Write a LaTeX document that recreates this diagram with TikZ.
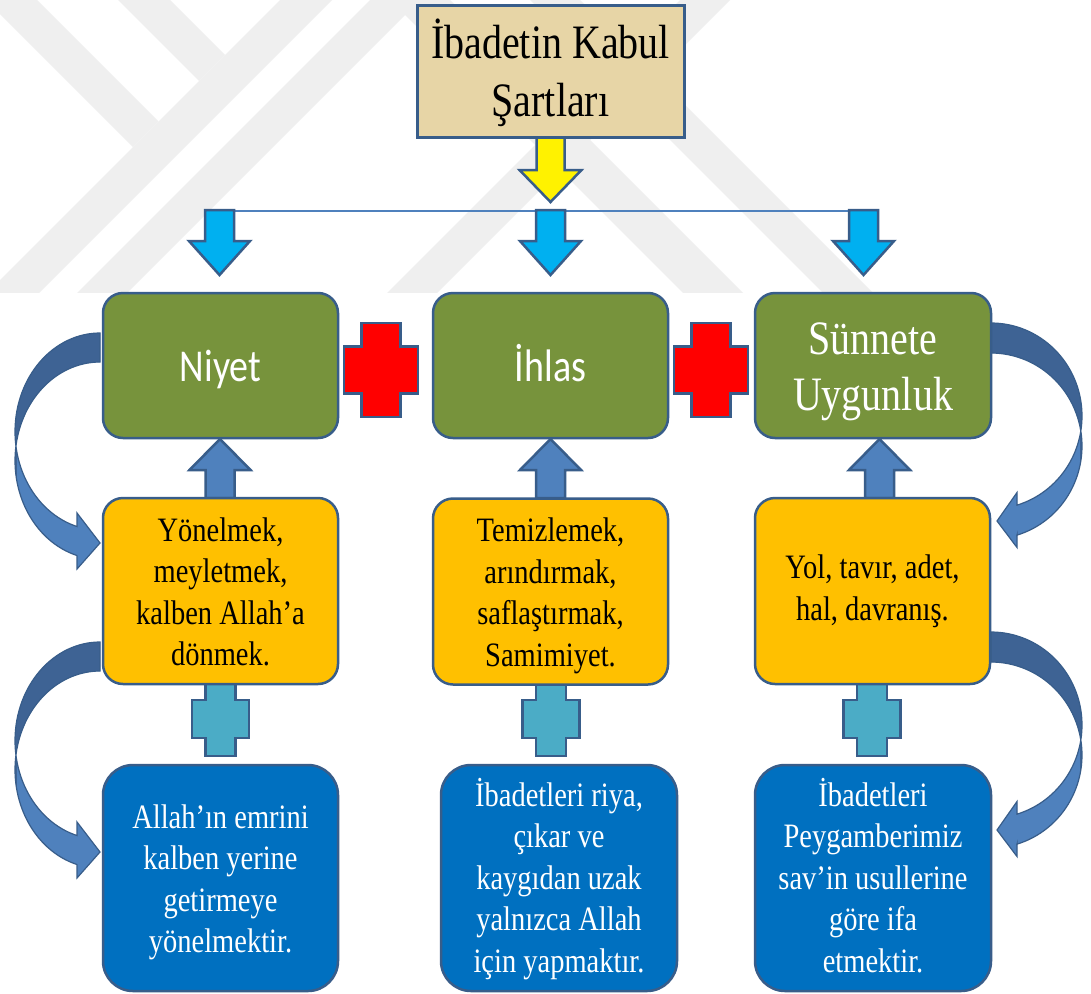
\documentclass[tikz,border=0pt]{standalone}
\usepackage{fontspec}
\setmainfont{Liberation Serif}
\newfontfamily\calfont{Carlito}
\usepackage{graphicx}
\usetikzlibrary{calc}
\definecolor{bord}{RGB}{56,93,138}
\definecolor{grn}{RGB}{119,147,60}
\definecolor{yel}{RGB}{255,192,0}
\definecolor{dblue}{RGB}{0,112,192}
\definecolor{ablue}{RGB}{79,129,189}
\definecolor{adark}{RGB}{62,99,148}
\definecolor{cyanx}{RGB}{75,172,198}
\definecolor{skyb}{RGB}{0,176,240}
\definecolor{papy}{RGB}{231,213,166}
\definecolor{wm}{RGB}{239,239,239}
\newcommand\tx[2][0pt]{\raisebox{#1}[\height][\depth]{\scalebox{1}[1.2]{\begin{tabular}{@{}c@{}}#2\end{tabular}}}}
\tikzset{
  bxbase/.style={draw=bord, line width=2.5pt, inner sep=0pt, outer sep=0pt, minimum width=235pt},
  gbox/.style={bxbase, rounded corners=20pt, fill=grn, text=white, minimum height=145pt},
  ybox/.style={bxbase, rounded corners=20pt, fill=yel, text=black, minimum height=186pt, font=\fontsize{28.5}{34.6}\selectfont},
  bbox/.style={bxbase, rounded corners=30pt, fill=dblue, text=white, minimum height=226pt, font=\fontsize{28.5}{34.6}\selectfont},
  blk/.style={draw=bord, line width=2.5pt, line join=miter},
  pics/downarr/.style n args={4}{code={\path[pic actions] (-#1,0) -- (-#1,#3) -- (-#2,#3) -- (0,#4) -- (#2,#3) -- (#1,#3) -- (#1,0) -- cycle;}},
  pics/plus/.style n args={4}{code={\path[pic actions] (-#3,-#2) -- (#3,-#2) -- (#3,-#4) -- (#1,-#4) -- (#1,#4) -- (#3,#4) -- (#3,#2) -- (-#3,#2) -- (-#3,#4) -- (-#1,#4) -- (-#1,-#4) -- (-#3,-#4) -- cycle;}},
}
\newcommand\LUpath{plot[domain=90:254.3,samples=60] ({100+85*cos(\x)},{431.6-98.6*sin(\x)}) -- (77,513) -- (100,543) -- (77,569) -- (77,555.5) -- plot[domain=254.3:90,samples=60] ({100+85*cos(\x)},{460.6-98.6*sin(\x)}) -- cycle}
\newcommand\LUdark{plot[domain=90:192,samples=40] ({100+85*cos(\x)},{431.6-98.6*sin(\x)}) -- plot[domain=192:90,samples=40] ({100+85*cos(\x)},{460.6-98.6*sin(\x)}) -- cycle}
\newcommand\RUpath{plot[domain=90:-73.4,samples=60] ({991+91*cos(\x)},{416-93*sin(\x)}) -- (1017,492.5) -- (997,521) -- (1017,547.5) -- (1017,535.1) -- plot[domain=-73.4:90,samples=60] ({991+91*cos(\x)},{446-93*sin(\x)}) -- cycle}
\newcommand\RUdark{plot[domain=90:-12,samples=40] ({991+91*cos(\x)},{416-93*sin(\x)}) -- plot[domain=-12:90,samples=40] ({991+91*cos(\x)},{446-93*sin(\x)}) -- cycle}
\begin{document}
\begin{tikzpicture}[x=1pt,y=-1pt]
\useasboundingbox (0,0) rectangle (1091,993);
\fill[white] (0,0) rectangle (1091,993);
% faint watermark
\begin{scope}
  \clip (0,0) rectangle (1091,292);
  \fill[wm] (0,0) -- (37,0) -- (158.5,121.5) -- (133,147) -- (0,14) -- cycle;
  \fill[wm] (118,0) -- (170,0) -- (225,55) -- (199,81) -- cycle;
  \fill[wm] (280,0) -- (332,0) -- (0,332) -- (0,280) -- cycle;
  \fill[wm] (370,0) -- (420,0) -- (0,420) -- (0,370) -- cycle;
  \fill[wm] (680,0) -- (730,0) -- (430,300) -- (380,300) -- cycle;
  \fill[wm] (530,0) -- (580,0) -- (880,300) -- (830,300) -- cycle;
  \fill[wm] (390,0) -- (450,0) -- (750,300) -- (690,300) -- cycle;
\end{scope}
% curved arrows
\foreach \s in {0,309}{
  \begin{scope}[shift={(0,\s)}]
    \fill[ablue] \LUpath;
    \fill[adark] \LUdark;
    \draw[bord, line width=1.2pt] \LUpath;
    \fill[ablue] \RUpath;
    \fill[adark] \RUdark;
    \draw[bord, line width=1.2pt] \RUpath;
  \end{scope}
}
% connector line and top arrows
\coordinate (a1) at (219.5,210);
\coordinate (a2) at (550.5,210);
\coordinate (a3) at (863.5,210);
\draw[ablue, line width=1.5pt] ($(a1)+(14.5,1)$) -- ($(a3)+(-14.5,1)$);
\foreach \a in {a1,a2,a3}{\pic[blk, fill=skyb] at (\a) {downarr={14.5}{30.5}{31}{65}};}
% title
\coordinate (ts) at (550.5,137);
\pic[blk, fill=yellow] at (ts) {downarr={14}{31}{33}{65}};
\node[draw=bord, line width=3pt, fill=papy, minimum width=267pt, minimum height=132pt, inner sep=0pt, font=\fontsize{40}{48}\selectfont] (title) at (550.5,71) {\tx[-5pt]{İbadetin Kabul\\Şartları}};
% up arrows
\foreach \p in {220,550.5,879.5}{\pic[blk, fill=ablue] at (\p,498) {downarr={14.5}{30.5}{-28}{-59}};}
% cyan plus
\foreach \p in {220.5,551,872}{\pic[blk, fill=cyanx] at (\p,719) {plus={28.5}{37}{15}{19}};}
% green boxes
\node[gbox, font=\calfont\fontsize{38}{46}\selectfont] (niyet) at (220.5,365.5) {\tx[-5pt]{Niyet}};
\node[gbox, font=\calfont\fontsize{38}{46}\selectfont] (ihlas) at (550.5,365.5) {\tx[-5pt]{İhlas}};
\node[gbox, minimum width=236pt, font=\fontsize{40}{47}\selectfont] (sunnet) at (873,365.5) {\tx[-6pt]{Sünnete\\Uygunluk}};
% red plus
\pic[blk, fill=red] at (381,370) {plus={37}{47}{19.5}{23.5}};
\pic[blk, fill=red] at (711,370) {plus={37}{47}{19.5}{23.5}};
% yellow boxes
\node[ybox] (y1) at (220.5,591) {\tx[-4pt]{Yönelmek,\\meyletmek,\\kalben Allah’a\\dönmek.}};
\node[ybox] (y2) at (550.5,591.5) {\tx[-4pt]{Temizlemek,\\arındırmak,\\saflaştırmak,\\Samimiyet.}};
\node[ybox] (y3) at (872.5,591) {\tx[0pt]{Yol, tavır, adet,\\hal, davranış.}};
% blue boxes
\node[bbox] (b1) at (220.5,878) {\tx[-4pt]{Allah’ın emrini\\kalben yerine\\getirmeye\\yönelmektir.}};
\node[bbox, minimum width=236pt] (b2) at (559,878) {\tx[-3pt]{İbadetleri riya,\\çıkar ve\\kaygıdan uzak\\yalnızca Allah\\için yapmaktır.}};
\node[bbox, minimum width=236pt] (b3) at (873,878) {\tx[-3pt]{İbadetleri\\Peygamberimiz\\sav’in usullerine\\göre ifa\\etmektir.}};
\end{tikzpicture}
\end{document}
